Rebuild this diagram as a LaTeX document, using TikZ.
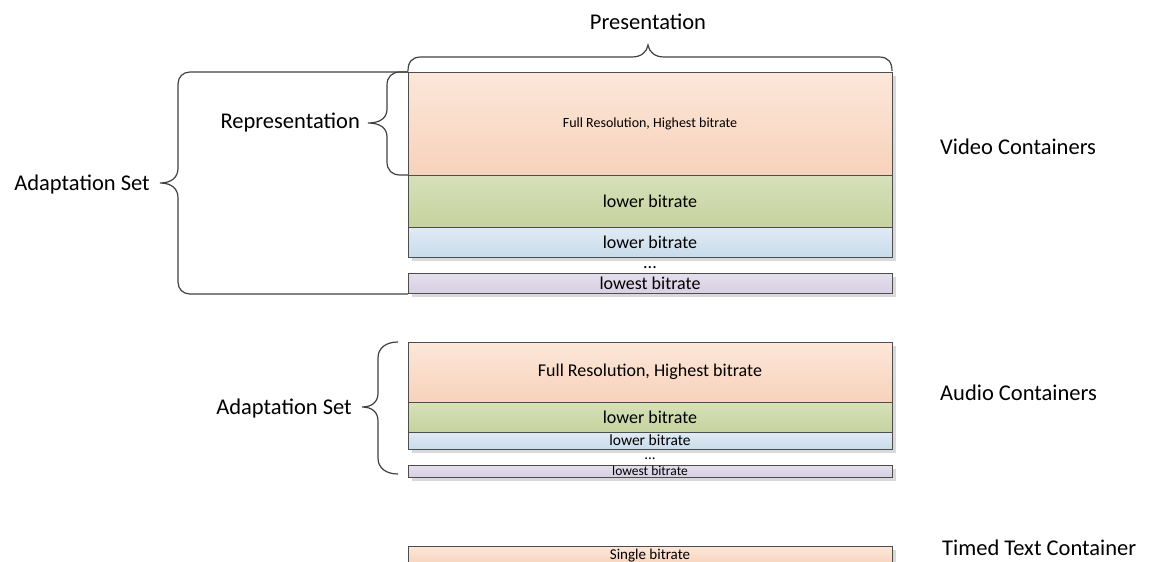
\documentclass[tikz,border=0pt]{standalone}
\usepackage{fontspec}
\setmainfont{Carlito}
\usetikzlibrary{shadows}
\definecolor{bordc}{HTML}{4D4D4D}
\definecolor{bracec}{HTML}{404040}
\definecolor{shadc}{HTML}{D9D9D9}
\definecolor{orT}{HTML}{FCE7D9}
\definecolor{orB}{HTML}{F7D2BB}
\definecolor{grT}{HTML}{D7E0BA}
\definecolor{grB}{HTML}{C6D29F}
\definecolor{blT}{HTML}{E0EBF5}
\definecolor{blB}{HTML}{C9DBEA}
\definecolor{puT}{HTML}{E5DFEC}
\definecolor{puB}{HTML}{D7CFE3}
\tikzset{
  box/.style={draw=bordc, line width=1pt, minimum width=484pt, inner sep=0pt,
    drop shadow={shadow xshift=4pt, shadow yshift=-4pt, fill=shadc, opacity=1}},
  orbox/.style={box, top color=orT, bottom color=orB},
  grbox/.style={box, top color=grT, bottom color=grB},
  blbox/.style={box, top color=blT, bottom color=blB},
  pubox/.style={box, top color=puT, bottom color=puB},
  brc/.style={draw=bracec, line width=1.2pt},
  lbl/.style={font=\fontsize{22.5}{27}\selectfont, inner sep=0pt},
  dots/.style={font=\fontsize{18}{20}\selectfont, inner sep=0pt, anchor=base}
}
\begin{document}
\begin{tikzpicture}[x=1pt,y=-1pt]
\useasboundingbox (0,0) rectangle (1152,562);
% video
\node[orbox, minimum height=103pt, font=\fontsize{14}{16}\selectfont] (v1) at (650,123.5) {Full Resolution, Highest bitrate};
\node[grbox, minimum height=52pt, font=\fontsize{18}{20}\selectfont] (v2) at (650,201) {lower bitrate};
\node[blbox, minimum height=30pt, font=\fontsize{18}{20}\selectfont] (v3) at (650,242) {lower bitrate};
\node[dots] (vd) at (650,268) {...};
\node[pubox, minimum height=20pt, font=\fontsize{18}{20}\selectfont] (v4) at (650,283) {lowest bitrate};
% audio
\node[orbox, minimum height=60pt, font=\fontsize{18}{20}\selectfont] (a1) at (650,372) {Full Resolution, Highest bitrate};
\node[grbox, minimum height=30pt, font=\fontsize{18}{20}\selectfont] (a2) at (650,417) {lower bitrate};
\node[blbox, minimum height=17pt, font=\fontsize{15.5}{17}\selectfont] (a3) at (650,440.5) {lower bitrate};
\node[dots, font=\fontsize{15}{16}\selectfont] (ad) at (650,459.5) {...};
\node[pubox, minimum height=12pt, font=\fontsize{13.5}{14}\selectfont] (a4) at (650,471) {lowest bitrate};
% timed text
\node[orbox, minimum height=20pt, font=\fontsize{15}{17}\selectfont] (t1) at (650,556) {Single bitrate};
% labels
\node[lbl] (pres) at (648,22) {Presentation};
\node[lbl, anchor=east] (rep) at (360,123) {Representation};
\node[lbl, anchor=east] (vas) at (150,185) {Adaptation Set};
\node[lbl, anchor=east] (aas) at (352,408) {Adaptation Set};
\node[lbl, anchor=west] (vc) at (940,147) {Video Containers};
\node[lbl, anchor=west] (ac) at (940,393) {Audio Containers};
\node[lbl, anchor=west] (tc) at (942,548) {Timed Text Container};
% braces
\path[brc] (408,71) .. controls (408,62) and (412,57) .. (421,57) -- (632,57)
  .. controls (641,57) and (647,52) .. (648,45) .. controls (649,52) and (655,57) .. (664,57)
  -- (879,57) .. controls (888,57) and (892,62) .. (892,71);
\path[brc] (408,72) -- (190,72) .. controls (183,72) and (178,77) .. (178,84) -- (178,168)
  .. controls (178,177) and (172,183) .. (160,183) .. controls (172,183) and (178,189) .. (178,198)
  -- (178,282) .. controls (178,289) and (183,294) .. (190,294) -- (408,294);
\path[brc] (408,72) -- (400,72) .. controls (392,72) and (387,77) .. (387,85) -- (387,109)
  .. controls (387,118) and (380,123) .. (368,123) .. controls (380,123) and (387,128) .. (387,137)
  -- (387,162) .. controls (387,170) and (392,175) .. (400,175) -- (408,175);
\path[brc] (398,342) .. controls (386,342) and (378,348) .. (378,358) -- (378,393)
  .. controls (378,402) and (372,407) .. (362,407) .. controls (372,407) and (378,412) .. (378,421)
  -- (378,458) .. controls (378,468) and (386,474) .. (398,474);
\end{tikzpicture}
\end{document}
